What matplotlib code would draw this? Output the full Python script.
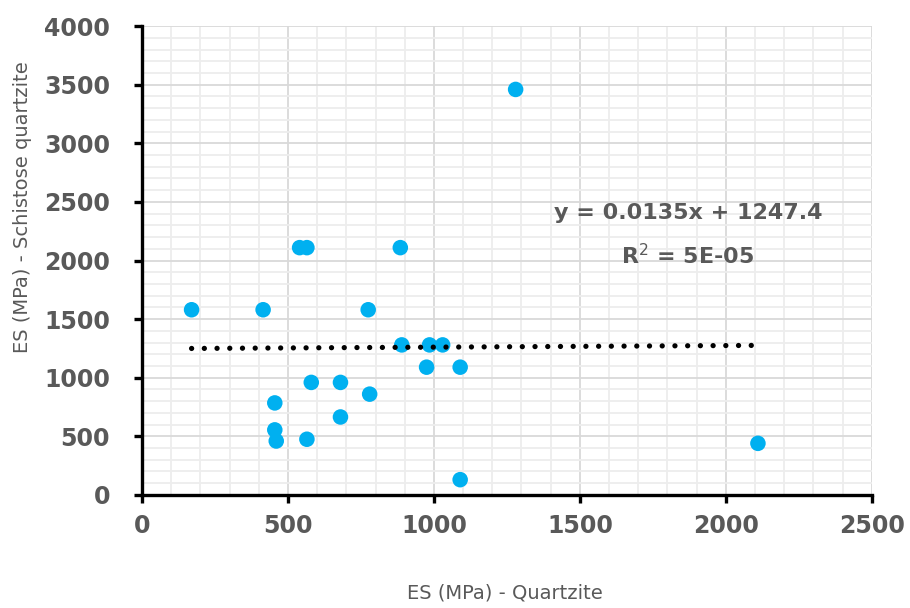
import matplotlib
matplotlib.use("Agg")
import matplotlib.pyplot as plt
from matplotlib.ticker import MultipleLocator
import numpy as np

# values
es_quartzite = [170, 415, 540, 565, 885, 1280, 775, 890, 985, 1030, 975, 1090,
                1090, 2110, 580, 680, 680, 780, 455, 455, 460, 565]
es_schistose = [1580, 1580, 2110, 2110, 2110, 3460, 1580, 1280, 1280, 1280, 1090, 1090,
                130, 440, 960, 960, 665, 860, 785, 555, 460, 475]

# linear trendline as printed on the chart
slope = 0.0135
intercept = 1247.4
eq_text = "y = 0.0135x + 1247.4"
r2_text = "R$^2$ = 5E-05"

x_label = "ES (MPa) - Quartzite"
y_label = "ES (MPa) - Schistose quartzite"

text_grey = "#595959"

fig = plt.figure(figsize=(9.1, 6.08), dpi=100)
ax = fig.add_axes([0.156, 0.186, 0.802, 0.771])

ax.set_xlim(0, 2500)
ax.set_ylim(0, 4000)
ax.xaxis.set_major_locator(MultipleLocator(500))
ax.yaxis.set_major_locator(MultipleLocator(500))
ax.xaxis.set_minor_locator(MultipleLocator(100))
ax.yaxis.set_minor_locator(MultipleLocator(100))

ax.grid(which="minor", color="#EDEDED", linewidth=1.3, zorder=0)
ax.grid(which="major", color="#D9D9D9", linewidth=1.3, zorder=0)
ax.set_axisbelow(True)

ax.scatter(es_quartzite, es_schistose, s=125, color="#00B0F0", edgecolors="none", zorder=3)

# trendline over the data range
xt = np.array([min(es_quartzite), max(es_quartzite)])
ax.plot(xt, slope * xt + intercept, color="black", linewidth=3.8,
        linestyle=(0, (0.01, 2.4)), dash_capstyle="round", zorder=4)

ax.text(1870, 2405, eq_text, ha="center", va="center", fontsize=16,
        fontweight="bold", color=text_grey)
ax.text(1870, 2045, r2_text, ha="center", va="center", fontsize=16,
        fontweight="bold", color=text_grey)

for side in ["top", "right"]:
    ax.spines[side].set_visible(False)
for side in ["left", "bottom"]:
    ax.spines[side].set_linewidth(2.4)
    ax.spines[side].set_color("black")

ax.tick_params(which="major", direction="out", length=6, width=2.4, color="black",
               labelsize=17, labelcolor=text_grey)
ax.tick_params(axis="y", which="major", pad=17)
ax.tick_params(axis="x", which="major", pad=8)
ax.tick_params(which="minor", length=0)
for lab in ax.get_xticklabels() + ax.get_yticklabels():
    lab.set_fontweight("bold")

fig.text(0.555, 0.025, x_label, ha="center", va="center", fontsize=14, color=text_grey)
fig.text(0.025, 0.66, y_label, ha="center", va="center", rotation=90,
         fontsize=14, color=text_grey)

fig.savefig("out.png", dpi=100)
